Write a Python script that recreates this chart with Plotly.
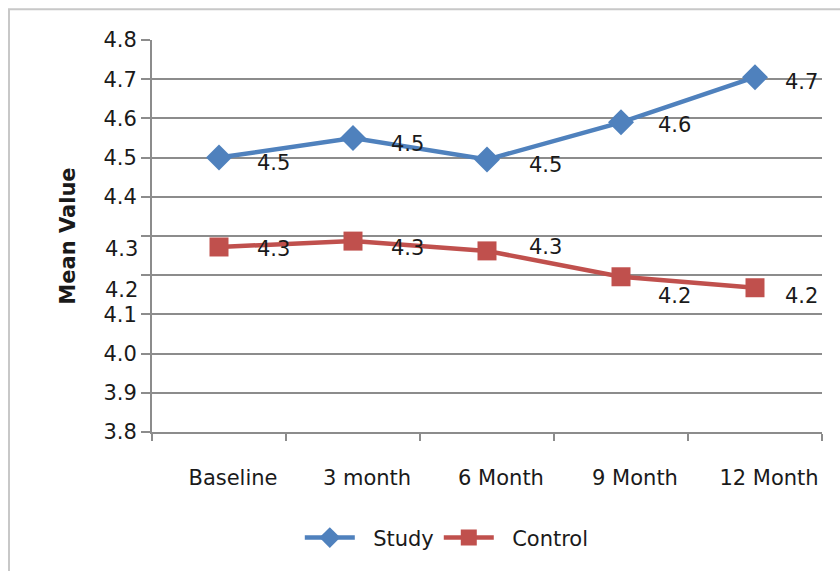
import plotly.graph_objects as go

# Time points and mean scores for each group
periods = ["Baseline", "3 month", "6 Month", "9 Month", "12 Month"]
study = [4.50, 4.55, 4.495, 4.59, 4.705]
control = [4.272, 4.287, 4.262, 4.196, 4.168]

# Y axis ticks; 4.3 and 4.2 are written a little below their gridlines
y_ticks = [3.8, 3.9, 4.0, 4.1, 4.2, 4.3, 4.4, 4.5, 4.6, 4.7, 4.8]
y_tick_text = ["3.8", "3.9", "4.0", "4.1", "", "", "4.4", "4.5", "4.6", "4.7", "4.8"]
loose_tick_text = ["4.3", "4.2"]
loose_tick_pos = [4.267, 4.163]

# Offsets of the value labels from their points (pixels)
label_dx = [36, 36, 40, 35, 28]
study_label_dy = [-5, -6, -5, -3, -5]
control_label_dy = [-2, -7, 4, -19, -8]

BLUE = "#4F81BD"
RED = "#C0504D"
GRID = "#8C8C8C"
TEXT = "#1a1a1a"
FONT = "DejaVu Sans"
SIZE = 21

fig = go.Figure()
fig.add_trace(go.Scatter(
    x=periods, y=study, name="  Study", mode="lines+markers",
    line=dict(color=BLUE, width=4.5),
    marker=dict(symbol="diamond", size=20, color=BLUE),
))
fig.add_trace(go.Scatter(
    x=periods, y=control, name="  Control", mode="lines+markers",
    line=dict(color=RED, width=4.5),
    marker=dict(symbol="square", size=19, color=RED),
))

annotations = []
for vals, dys in ((study, study_label_dy), (control, control_label_dy)):
    for p, v, dx, dy in zip(periods, vals, label_dx, dys):
        annotations.append(dict(
            x=p, y=v, xref="x", yref="y", text=f"{v:.1f}", showarrow=False,
            xanchor="left", yanchor="middle", xshift=dx, yshift=dy,
            font=dict(family=FONT, size=SIZE, color=TEXT),
        ))
for t, pos in zip(loose_tick_text, loose_tick_pos):
    annotations.append(dict(
        x=0, y=pos, xref="paper", yref="y", text=t, showarrow=False,
        xanchor="right", yanchor="middle", xshift=-12,
        font=dict(family=FONT, size=SIZE, color=TEXT),
    ))

fig.update_layout(
    width=840, height=571,
    margin=dict(l=152, r=18, t=40, b=137),
    paper_bgcolor="white", plot_bgcolor="white",
    font=dict(family=FONT, size=SIZE, color=TEXT),
    showlegend=True,
    legend=dict(
        orientation="h", x=0.44, y=-0.218, xanchor="center", yanchor="top",
        font=dict(family=FONT, size=SIZE, color=TEXT),
        itemwidth=50,
    ),
    annotations=annotations,
    shapes=[dict(
        type="rect", xref="paper", yref="paper",
        x0=(9 - 152) / 670, x1=(860 - 152) / 670,
        y0=(434 - 600) / 394, y1=1 + (40 - 9) / 394,
        line=dict(color="#C8C8C8", width=2), layer="below",
    )],
)

fig.update_xaxes(
    type="category", range=[-0.5, 4.5],
    showline=True, linecolor=GRID, linewidth=2,
    ticks="outside", tickson="boundaries", ticklen=7, tickcolor=GRID, tickwidth=2,
    showgrid=False, zeroline=False,
    ticklabelstandoff=26, ticklabelshift=14,
    tickfont=dict(family=FONT, size=SIZE, color=TEXT),
)
fig.update_yaxes(
    range=[3.8, 4.8], tickvals=y_ticks, ticktext=y_tick_text,
    showline=True, linecolor=GRID, linewidth=2,
    ticks="outside", ticklen=9, tickcolor=GRID, tickwidth=2,
    showgrid=True, gridcolor=GRID, gridwidth=2, zeroline=False,
    tickfont=dict(family=FONT, size=SIZE, color=TEXT),
    title=dict(text="<b>Mean Value</b>", font=dict(family=FONT, size=21, color=TEXT),
               standoff=22),
)

fig.write_html("out.html")
